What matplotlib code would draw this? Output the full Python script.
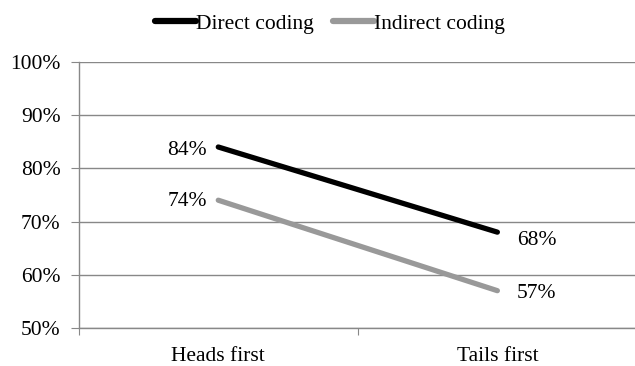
import matplotlib
matplotlib.use("Agg")
import matplotlib.pyplot as plt

categories = ["Heads first", "Tails first"]
direct = [84, 68]
indirect = [74, 57]
series_names = ["Direct coding", "Indirect coding"]
y_ticks = [50, 60, 70, 80, 90, 100]

plt.rcParams["font.family"] = ["Liberation Serif", "DejaVu Serif"]

fig = plt.figure(figsize=(6.35, 3.66), dpi=100)
ax = fig.add_axes([0.124, 0.104, 0.879, 0.727])

x = [0.5, 1.5]
ax.plot(x, direct, color="black", linewidth=3.8, solid_capstyle="round", label=series_names[0])
ax.plot(x, indirect, color="#999999", linewidth=3.8, solid_capstyle="round", label=series_names[1])

# value labels
fs = 15.5
ax.text(x[0] - 0.04, direct[0] - 0.6, f"{direct[0]}%", ha="right", va="center", fontsize=fs)
ax.text(x[0] - 0.04, indirect[0] - 0.3, f"{indirect[0]}%", ha="right", va="center", fontsize=fs)
ax.text(x[1] + 0.07, direct[1] - 1.5, f"{direct[1]}%", ha="left", va="center", fontsize=fs)
ax.text(x[1] + 0.07, indirect[1] - 0.6, f"{indirect[1]}%", ha="left", va="center", fontsize=fs)

ax.set_xlim(0, 2)
ax.set_ylim(50, 100)
ax.set_yticks(y_ticks)
ax.set_yticklabels([f"{v}%" for v in y_ticks], fontsize=fs)
ax.set_xticks([0, 1, 2])
ax.set_xticklabels([])
ax.set_xticks(x, minor=True)
ax.set_xticklabels(categories, minor=True, fontsize=fs)
ax.tick_params(axis="x", which="minor", length=0, pad=14)
ax.tick_params(axis="x", which="major", length=5, color="#888888")
ax.tick_params(axis="y", length=6, color="#888888", pad=7)

ax.grid(True, axis="y", color="#888888", linewidth=1)
for side in ["top", "right"]:
    ax.spines[side].set_visible(False)
for side in ["left", "bottom"]:
    ax.spines[side].set_color("#888888")
    ax.spines[side].set_linewidth(1)
ax.set_axisbelow(True)

leg = fig.legend(loc="upper center", bbox_to_anchor=(0.52, 1.015), ncol=2, frameon=False,
                 fontsize=fs, handlelength=1.9, handletextpad=0.0, columnspacing=0.9)
for line in leg.get_lines():
    line.set_linewidth(4.5)

fig.savefig("out.png", dpi=100)
